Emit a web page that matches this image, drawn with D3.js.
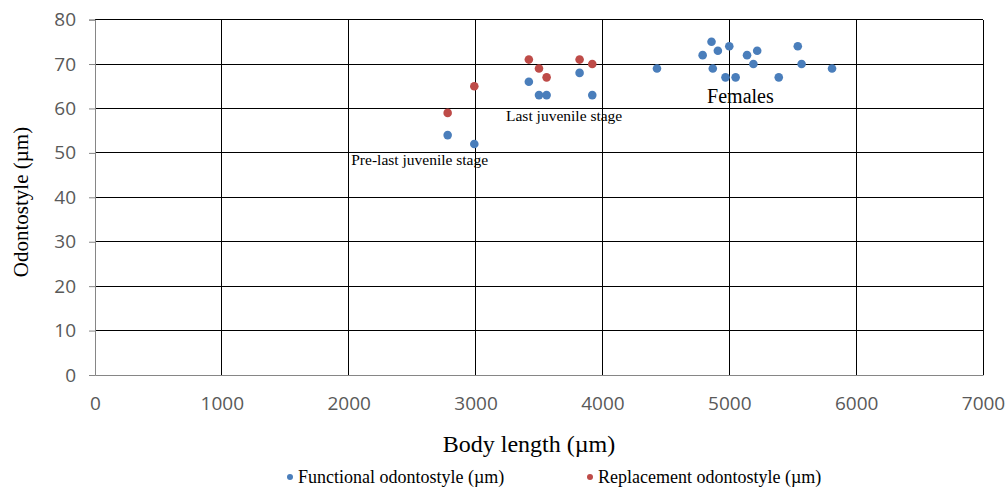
<!DOCTYPE html>
<html><head><meta charset="utf-8">
<script src="https://cdn.jsdelivr.net/npm/d3@7"></script>
<style>body{margin:0;background:#fff;} svg{display:block;}</style>
</head><body>
<svg id="chart" width="1006" height="488"></svg>
<script>
const functionalX = [2780, 2990, 3420, 3500, 3560, 3820, 3920, 4430, 4790, 4860, 4870, 4910, 4970, 5000, 5050, 5140, 5190, 5220, 5390, 5540, 5570, 5810];
const functionalY = [54, 52, 66, 63, 63, 68, 63, 69, 72, 75, 69, 73, 67, 74, 67, 72, 70, 73, 67, 74, 70, 69];
const replacementX = [2780, 2990, 3420, 3500, 3560, 3820, 3920];
const replacementY = [59, 65, 71, 69, 67, 71, 70];
const xTicks = [0, 1000, 2000, 3000, 4000, 5000, 6000, 7000];
const yTicks = [0, 10, 20, 30, 40, 50, 60, 70, 80];
const seriesNames = ["Functional odontostyle (\u00b5m)", "Replacement odontostyle (\u00b5m)"];
const annotations = [
  {text: "Pre-last juvenile stage", x: 2020, y: 47.3, size: 15.5},
  {text: "Last juvenile stage", x: 3240, y: 57.2, size: 15.5},
  {text: "Females", x: 4825, y: 61.2, size: 20}
];

const svg = d3.select("#chart");
const x = d3.scaleLinear().domain([0, 7000]).range([95, 983]);
const y = d3.scaleLinear().domain([0, 80]).range([375, 19.6]);
const serif = "'Liberation Serif', 'Times New Roman', serif";
const sans = "'Open Sans', 'Liberation Sans', sans-serif";

// gridlines
svg.append("g").selectAll("line").data(yTicks.filter(d => d > 0)).join("line")
  .attr("x1", x(0)).attr("x2", x(7000)).attr("y1", d => y(d)).attr("y2", d => y(d))
  .attr("stroke", "#000").attr("stroke-width", 1).attr("shape-rendering", "crispEdges");
svg.append("g").selectAll("line").data(xTicks.filter(d => d > 0)).join("line")
  .attr("x1", d => x(d)).attr("x2", d => x(d)).attr("y1", y(0)).attr("y2", y(80))
  .attr("stroke", "#000").attr("stroke-width", 1).attr("shape-rendering", "crispEdges");

// axes
const yAxis = svg.append("g").attr("transform", `translate(${x(0)},0)`)
  .call(d3.axisLeft(y).tickValues(yTicks).tickSize(6).tickPadding(13));
yAxis.select(".domain").attr("stroke", "#868686");
yAxis.selectAll(".tick line").attr("stroke", "#868686");
yAxis.selectAll("text").attr("fill", "#595959").style("font-family", sans).style("font-size", "19px");

const xAxis = svg.append("g").attr("transform", `translate(0,${y(0)})`)
  .call(d3.axisBottom(x).tickValues(xTicks).tickFormat(d3.format("d")).tickSize(0).tickPadding(22));
xAxis.select(".domain").attr("stroke", "#868686");
xAxis.selectAll("text").attr("fill", "#595959").style("font-family", sans).style("font-size", "19px");

// points
const fData = functionalX.map((d, i) => [d, functionalY[i]]);
const rData = replacementX.map((d, i) => [d, replacementY[i]]);
svg.append("g").selectAll("circle").data(fData).join("circle")
  .attr("cx", d => x(d[0])).attr("cy", d => y(d[1])).attr("r", 4.3).attr("fill", "#4a7ebb");
svg.append("g").selectAll("circle").data(rData).join("circle")
  .attr("cx", d => x(d[0])).attr("cy", d => y(d[1])).attr("r", 4.3).attr("fill", "#be4b48");

// annotations
svg.append("g").selectAll("text").data(annotations).join("text")
  .attr("x", d => x(d.x)).attr("y", d => y(d.y))
  .style("font-family", serif).style("font-size", d => d.size + "px").attr("fill", "#000")
  .text(d => d.text);

// axis titles
svg.append("text").attr("transform", "translate(28,202) rotate(-90)").attr("text-anchor", "middle")
  .style("font-family", serif).style("font-size", "21px").attr("fill", "#000").text("Odontostyle (\u00b5m)");
svg.append("text").attr("x", 529).attr("y", 452).attr("text-anchor", "middle")
  .style("font-family", serif).style("font-size", "24px").attr("fill", "#000").text("Body length (\u00b5m)");

// legend
const colors = ["#4a7ebb", "#be4b48"];
const legendX = [290, 590];
const lg = svg.append("g").selectAll("g").data(seriesNames).join("g")
  .attr("transform", (d, i) => `translate(${legendX[i]},477)`);
lg.append("circle").attr("r", 3).attr("fill", (d, i) => colors[i]);
lg.append("text").attr("x", 8).attr("dy", "0.35em")
  .style("font-family", serif).style("font-size", "18px").attr("fill", "#000").text(d => d);
</script>
</body></html>
